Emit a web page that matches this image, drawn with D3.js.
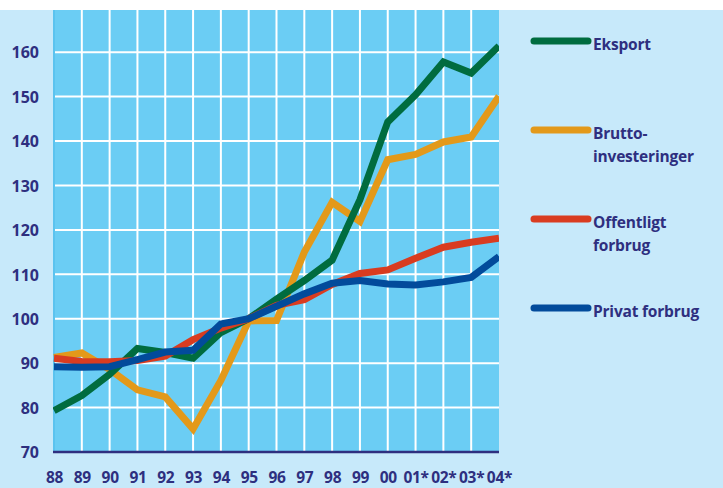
<!DOCTYPE html>
<html><head><meta charset="utf-8">
<script src="https://cdn.jsdelivr.net/npm/d3@7"></script>
<style>
html,body{margin:0;padding:0;background:#fff;}
text{font-family:"Open Sans",sans-serif;font-weight:700;fill:#2E2F7F;}
</style></head>
<body>
<svg id="c" width="723" height="488"></svg>
<script>
const years = ["88","89","90","91","92","93","94","95","96","97","98","99","00","01*","02*","03*","04*"];
const yTicks = [70,80,90,100,110,120,130,140,150,160];
const eksport = [79.3,82.7,87.5,93.3,92.4,91.1,96.9,100,104.4,108.6,113.2,126.8,144.3,150.4,157.8,155.3,161.4];
const brutto = [91.3,92.3,88.6,84.0,82.4,75.2,86.1,99.5,99.6,115.0,126.2,121.9,135.8,137.0,139.8,140.9,150.1];
const offentligt = [91.1,90.4,90.3,90.6,91.6,95.3,97.9,100,103.0,104.3,107.7,110.2,111.0,113.6,116.1,117.2,118.1];
const privat = [89.2,89.1,89.2,90.8,92.5,92.9,98.8,100,102.8,105.6,108.0,108.6,107.8,107.6,108.3,109.3,114.0];
const seriesNames = ["Eksport","Brutto-|investeringer","Offentligt|forbrug","Privat forbrug"];
const seriesColors = ["#006C3F","#E3991A","#D93C20","#024B9B"];
const seriesData = [eksport, brutto, offentligt, privat];

const svg = d3.select("#c");
const L = 53, R = 499, T = 10, B = 452;
svg.append("rect").attr("x",0).attr("y",10).attr("width",723).attr("height",478).attr("fill","#C7E9FA");
svg.append("rect").attr("x",L).attr("y",T).attr("width",R-L).attr("height",B-T).attr("fill","#6BCDF4");
svg.append("rect").attr("x",L).attr("y",T).attr("width",2).attr("height",B-T).attr("fill","#5BC3EF");

const x = d3.scalePoint().domain(years).range([L+1, R]);
const y = d3.scaleLinear().domain([70, 169.5]).range([B, T]);

const g = svg.append("g");
g.selectAll("line.h").data(yTicks.filter(v=>v>70)).enter().append("line")
  .attr("x1",L+2).attr("x2",R).attr("y1",d=>y(d)).attr("y2",d=>y(d))
  .attr("stroke","#fff").attr("stroke-width",2);
g.selectAll("line.v").data(years.slice(1,-1)).enter().append("line")
  .attr("x1",d=>x(d)).attr("x2",d=>x(d)).attr("y1",T).attr("y2",B)
  .attr("stroke","#fff").attr("stroke-width",2);

const yAxis = d3.axisLeft(y).tickValues(yTicks).tickSize(0).tickPadding(14);
const ya = svg.append("g").attr("transform",`translate(${L},0)`).call(yAxis);
ya.select(".domain").remove();
ya.selectAll("text").attr("font-size",16).attr("font-family","Open Sans").attr("font-weight",700).attr("fill","#2E2F7F").attr("dy","0.36em");

const xAxis = d3.axisBottom(x).tickSize(0).tickPadding(20);
const xa = svg.append("g").attr("transform",`translate(0,${B})`).call(xAxis);
xa.select(".domain").remove();
xa.selectAll("text").attr("font-size",15.5).attr("font-family","Open Sans").attr("font-weight",700).attr("fill","#2E2F7F").attr("letter-spacing","-0.3");

svg.append("defs").append("clipPath").attr("id","clip").append("rect")
  .attr("x",L).attr("y",T).attr("width",R-L).attr("height",B-T);

const line = d3.line().x((d,i)=>x(years[i])).y(d=>y(d));
const order = [1,0,2,3];
const lg = svg.append("g").attr("clip-path","url(#clip)");
order.forEach(k=>{
  lg.append("path").datum(seriesData[k]).attr("d",line)
    .attr("fill","none").attr("stroke",seriesColors[k]).attr("stroke-width",7)
    .attr("stroke-linejoin","miter").attr("stroke-miterlimit",3);
});

svg.append("line").attr("x1",L).attr("x2",R).attr("y1",B).attr("y2",B)
  .attr("stroke","#2E2F7F").attr("stroke-width",2.5);

const legY = [41,130,219,308];
seriesNames.forEach((n,k)=>{
  svg.append("line").attr("x1",534).attr("x2",588).attr("y1",legY[k]).attr("y2",legY[k])
    .attr("stroke",seriesColors[k]).attr("stroke-width",7).attr("stroke-linecap","round");
  const parts = n.split("|");
  const t = svg.append("text").attr("x",593).attr("y",legY[k]+9).attr("font-size",15.5).attr("letter-spacing","-0.2");
  parts.forEach((p,i)=>{
    t.append("tspan").attr("x",593).attr("dy",i===0?0:23).text(p);
  });
});
</script>
</body></html>
